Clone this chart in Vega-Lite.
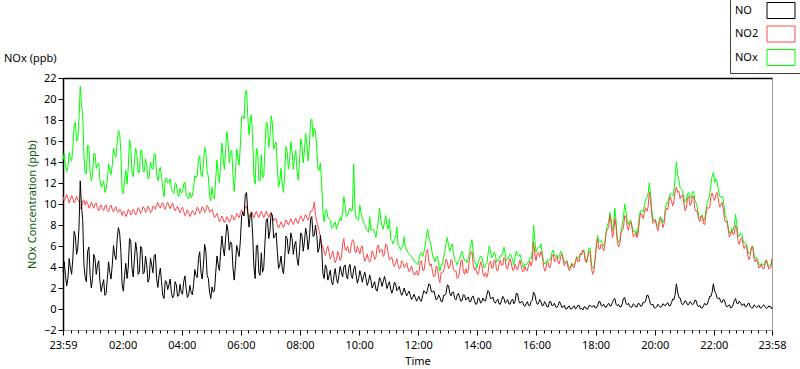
{
"$schema": "https://vega.github.io/schema/vega-lite/v6.json",
"width": 709,
"height": 252,
"autosize": "none",
"padding": {"left": 63, "top": 78, "right": 28, "bottom": 39},
"background": "white",
"config": {
  "font": "Noto Sans",
  "view": {"stroke": "#a0a0a0", "strokeWidth": 1},
  "axis": {"labelFont": "Noto Sans", "labelFontSize": 11, "labelColor": "#000", "titleFont": "Noto Sans", "titleFontSize": 11, "titleFontWeight": "normal", "titleColor": "#000", "tickColor": "#000", "grid": false}
},
"title": {"text": "NOx (ppb)", "anchor": "start", "frame": "group", "dx": -59, "dy": 68, "offset": 0, "fontSize": 11, "font": "Noto Sans", "fontWeight": "normal", "color": "#000"},
"data": {"values": [
{"m":0,"NO":3.5,"NO2":10.7,"NOx":14.2},{"m":5,"NO":3.2,"NO2":10.5,"NOx":13.7},{"m":10,"NO":2.9,"NO2":10.6,"NOx":13.5},{"m":15,"NO":3.9,"NO2":10.4,"NOx":14.3},{"m":20,"NO":4.8,"NO2":10.5,"NOx":15.3},{"m":25,"NO":7.0,"NO2":10.3,"NOx":17.8},{"m":30,"NO":5.8,"NO2":10.4,"NOx":16.2},{"m":35,"NO":12.2,"NO2":9.6,"NOx":21.2},{"m":40,"NO":8.5,"NO2":10.3,"NOx":18.5},{"m":45,"NO":3.0,"NO2":9.9,"NOx":12.9},{"m":50,"NO":5.5,"NO2":10.1,"NOx":15.6},{"m":55,"NO":3.2,"NO2":9.8,"NOx":13.0},
{"m":60,"NO":2.9,"NO2":9.9,"NOx":12.8},{"m":65,"NO":4.8,"NO2":10.0,"NOx":14.8},{"m":70,"NO":4.2,"NO2":9.6,"NOx":13.8},{"m":75,"NO":2.6,"NO2":9.7,"NOx":12.3},{"m":80,"NO":2.3,"NO2":9.5,"NOx":11.8},{"m":85,"NO":1.3,"NO2":9.8,"NOx":11.1},{"m":90,"NO":2.9,"NO2":9.4,"NOx":12.3},{"m":95,"NO":3.5,"NO2":9.7,"NOx":13.2},{"m":100,"NO":4.2,"NO2":9.5,"NOx":13.7},{"m":105,"NO":5.1,"NO2":9.6,"NOx":14.7},{"m":110,"NO":6.7,"NO2":9.3,"NOx":16.0},{"m":115,"NO":7.2,"NO2":9.5,"NOx":16.7},
{"m":120,"NO":2.3,"NO2":8.9,"NOx":11.2},{"m":125,"NO":3.2,"NO2":9.2,"NOx":12.4},{"m":130,"NO":2.9,"NO2":9.0,"NOx":11.9},{"m":135,"NO":6.7,"NO2":9.4,"NOx":16.1},{"m":140,"NO":3.9,"NO2":9.1,"NOx":13.0},{"m":145,"NO":4.8,"NO2":9.3,"NOx":14.1},{"m":150,"NO":5.5,"NO2":9.2,"NOx":14.7},{"m":155,"NO":3.5,"NO2":9.5,"NOx":13.0},{"m":160,"NO":5.8,"NO2":9.3,"NOx":15.1},{"m":165,"NO":3.5,"NO2":9.6,"NOx":13.1},{"m":170,"NO":4.2,"NO2":9.4,"NOx":13.6},{"m":175,"NO":2.9,"NO2":9.6,"NOx":12.5},
{"m":180,"NO":4.2,"NO2":9.3,"NOx":13.5},{"m":185,"NO":5.1,"NO2":9.7,"NOx":14.8},{"m":190,"NO":2.9,"NO2":9.9,"NOx":12.8},{"m":195,"NO":3.2,"NO2":9.8,"NOx":13.0},{"m":200,"NO":2.6,"NO2":10.0,"NOx":12.6},{"m":205,"NO":1.0,"NO2":9.7,"NOx":10.7},{"m":210,"NO":2.6,"NO2":9.9,"NOx":12.5},{"m":215,"NO":2.3,"NO2":9.8,"NOx":12.1},{"m":220,"NO":1.6,"NO2":9.9,"NOx":11.5},{"m":225,"NO":1.3,"NO2":9.7,"NOx":11.0},{"m":230,"NO":2.3,"NO2":9.6,"NOx":11.9},{"m":235,"NO":1.3,"NO2":9.4,"NOx":10.7},
{"m":240,"NO":1.6,"NO2":9.5,"NOx":11.1},{"m":245,"NO":2.6,"NO2":9.3,"NOx":11.9},{"m":250,"NO":1.9,"NO2":9.1,"NOx":11.0},{"m":255,"NO":1.3,"NO2":9.2,"NOx":10.5},{"m":260,"NO":1.6,"NO2":9.0,"NOx":10.6},{"m":265,"NO":2.3,"NO2":9.2,"NOx":11.5},{"m":270,"NO":3.2,"NO2":9.3,"NOx":12.5},{"m":275,"NO":4.8,"NO2":9.5,"NOx":14.3},{"m":280,"NO":3.5,"NO2":9.3,"NOx":12.8},{"m":285,"NO":4.2,"NO2":9.6,"NOx":13.8},{"m":290,"NO":5.5,"NO2":9.4,"NOx":14.9},{"m":295,"NO":2.9,"NO2":9.7,"NOx":12.6},
{"m":300,"NO":1.0,"NO2":9.3,"NOx":10.3},{"m":305,"NO":1.6,"NO2":9.1,"NOx":10.7},{"m":310,"NO":3.5,"NO2":8.9,"NOx":12.4},{"m":315,"NO":4.2,"NO2":8.7,"NOx":12.9},{"m":320,"NO":5.5,"NO2":8.5,"NOx":14.0},{"m":325,"NO":5.8,"NO2":8.6,"NOx":14.4},{"m":330,"NO":6.7,"NO2":8.4,"NOx":15.1},{"m":335,"NO":7.4,"NO2":8.6,"NOx":16.0},{"m":340,"NO":6.4,"NO2":8.5,"NOx":14.9},{"m":345,"NO":3.9,"NO2":8.8,"NOx":12.7},{"m":350,"NO":4.2,"NO2":8.7,"NOx":12.9},{"m":355,"NO":5.5,"NO2":8.9,"NOx":14.4},
{"m":360,"NO":6.5,"NO2":9.1,"NOx":15.6},{"m":365,"NO":9.2,"NO2":9.2,"NOx":18.4},{"m":370,"NO":10.9,"NO2":9.8,"NOx":20.7},{"m":375,"NO":9.3,"NO2":9.1,"NOx":18.4},{"m":380,"NO":8.9,"NO2":9.0,"NOx":17.9},{"m":385,"NO":7.0,"NO2":9.0,"NOx":16.0},{"m":390,"NO":2.9,"NO2":9.0,"NOx":11.9},{"m":395,"NO":6.1,"NO2":9.0,"NOx":15.1},{"m":400,"NO":3.2,"NO2":9.0,"NOx":12.2},{"m":405,"NO":3.5,"NO2":9.0,"NOx":12.5},{"m":410,"NO":6.4,"NO2":9.0,"NOx":15.4},{"m":415,"NO":8.6,"NO2":9.0,"NOx":17.6},
{"m":420,"NO":7.4,"NO2":9.0,"NOx":16.4},{"m":425,"NO":8.9,"NO2":8.8,"NOx":17.7},{"m":430,"NO":7.0,"NO2":8.6,"NOx":15.6},{"m":435,"NO":5.5,"NO2":8.0,"NOx":13.5},{"m":440,"NO":4.2,"NO2":8.0,"NOx":12.2},{"m":445,"NO":3.9,"NO2":8.0,"NOx":11.9},{"m":450,"NO":4.8,"NO2":8.1,"NOx":12.9},{"m":455,"NO":6.7,"NO2":8.3,"NOx":15.0},{"m":460,"NO":5.8,"NO2":8.3,"NOx":14.1},{"m":465,"NO":6.7,"NO2":8.3,"NOx":15.0},{"m":470,"NO":6.1,"NO2":8.4,"NOx":14.5},{"m":475,"NO":4.8,"NO2":8.3,"NOx":13.1},
{"m":480,"NO":5.5,"NO2":8.6,"NOx":14.1},{"m":485,"NO":7.0,"NO2":8.6,"NOx":15.6},{"m":490,"NO":6.4,"NO2":8.7,"NOx":15.1},{"m":495,"NO":7.0,"NO2":8.7,"NOx":15.7},{"m":500,"NO":6.7,"NO2":8.8,"NOx":15.5},{"m":505,"NO":8.8,"NO2":9.3,"NOx":18.1},{"m":510,"NO":7.0,"NO2":10.2,"NOx":17.2},{"m":515,"NO":7.0,"NO2":8.3,"NOx":15.3},{"m":520,"NO":5.8,"NO2":7.4,"NOx":13.2},{"m":525,"NO":5.8,"NO2":6.1,"NOx":11.9},{"m":530,"NO":2.9,"NO2":5.4,"NOx":8.3},{"m":535,"NO":3.9,"NO2":5.6,"NOx":9.5},
{"m":540,"NO":3.2,"NO2":5.4,"NOx":8.6},{"m":545,"NO":2.6,"NO2":5.1,"NOx":7.7},{"m":550,"NO":3.2,"NO2":4.9,"NOx":8.1},{"m":555,"NO":2.9,"NO2":4.7,"NOx":7.6},{"m":560,"NO":3.2,"NO2":5.1,"NOx":8.3},{"m":565,"NO":3.5,"NO2":4.9,"NOx":8.4},{"m":570,"NO":4.0,"NO2":6.7,"NOx":10.7},{"m":575,"NO":3.2,"NO2":5.6,"NOx":8.8},{"m":580,"NO":3.9,"NO2":5.4,"NOx":9.3},{"m":585,"NO":3.2,"NO2":6.1,"NOx":9.3},{"m":590,"NO":3.8,"NO2":6.5,"NOx":13.8},{"m":595,"NO":3.2,"NO2":5.4,"NOx":8.6},
{"m":600,"NO":2.9,"NO2":5.6,"NOx":8.5},{"m":605,"NO":3.2,"NO2":5.9,"NOx":9.1},{"m":610,"NO":3.1,"NO2":5.1,"NOx":8.2},{"m":615,"NO":2.9,"NO2":4.8,"NOx":7.7},{"m":620,"NO":2.6,"NO2":4.7,"NOx":7.3},{"m":625,"NO":2.7,"NO2":4.8,"NOx":7.5},{"m":630,"NO":2.3,"NO2":5.3,"NOx":7.6},{"m":635,"NO":1.9,"NO2":4.9,"NOx":6.8},{"m":640,"NO":2.3,"NO2":6.1,"NOx":8.4},{"m":645,"NO":2.7,"NO2":5.6,"NOx":8.5},{"m":650,"NO":2.6,"NO2":5.0,"NOx":7.6},{"m":655,"NO":2.6,"NO2":6.2,"NOx":8.9},
{"m":660,"NO":2.3,"NO2":5.3,"NOx":7.6},{"m":665,"NO":1.9,"NO2":4.8,"NOx":6.7},{"m":670,"NO":1.9,"NO2":4.3,"NOx":6.2},{"m":675,"NO":2.4,"NO2":4.4,"NOx":6.8},{"m":680,"NO":1.9,"NO2":4.2,"NOx":6.1},{"m":685,"NO":1.6,"NO2":4.0,"NOx":5.6},{"m":690,"NO":1.6,"NO2":4.4,"NOx":6.0},{"m":695,"NO":1.6,"NO2":4.1,"NOx":5.7},{"m":700,"NO":1.5,"NO2":3.9,"NOx":5.4},{"m":705,"NO":1.3,"NO2":3.8,"NOx":5.1},{"m":710,"NO":1.1,"NO2":3.6,"NOx":4.7},{"m":715,"NO":1.1,"NO2":3.3,"NOx":4.4},
{"m":720,"NO":1.0,"NO2":3.2,"NOx":4.2},{"m":725,"NO":0.8,"NO2":4.5,"NOx":5.3},{"m":730,"NO":1.3,"NO2":3.7,"NOx":5.0},{"m":735,"NO":1.6,"NO2":4.4,"NOx":6.0},{"m":740,"NO":1.9,"NO2":5.7,"NOx":7.6},{"m":745,"NO":2.3,"NO2":4.1,"NOx":6.4},{"m":750,"NO":1.6,"NO2":3.5,"NOx":5.1},{"m":755,"NO":1.3,"NO2":3.2,"NOx":4.5},{"m":760,"NO":1.0,"NO2":4.0,"NOx":5.0},{"m":765,"NO":1.1,"NO2":2.5,"NOx":3.6},{"m":770,"NO":0.7,"NO2":3.5,"NOx":4.2},{"m":775,"NO":1.3,"NO2":4.2,"NOx":5.5},
{"m":780,"NO":2.3,"NO2":4.5,"NOx":6.8},{"m":785,"NO":1.5,"NO2":4.0,"NOx":5.5},{"m":790,"NO":1.6,"NO2":4.6,"NOx":6.2},{"m":795,"NO":1.0,"NO2":3.6,"NOx":4.6},{"m":800,"NO":1.3,"NO2":2.9,"NOx":4.2},{"m":805,"NO":1.1,"NO2":3.6,"NOx":4.7},{"m":810,"NO":0.8,"NO2":4.7,"NOx":5.5},{"m":815,"NO":1.3,"NO2":3.3,"NOx":4.6},{"m":820,"NO":1.0,"NO2":3.4,"NOx":4.4},{"m":825,"NO":0.7,"NO2":4.7,"NOx":5.4},{"m":830,"NO":1.1,"NO2":5.5,"NOx":6.6},{"m":835,"NO":0.8,"NO2":3.7,"NOx":4.5},
{"m":840,"NO":0.5,"NO2":3.4,"NOx":3.9},{"m":845,"NO":1.0,"NO2":3.8,"NOx":4.8},{"m":850,"NO":0.7,"NO2":4.2,"NOx":4.9},{"m":855,"NO":0.8,"NO2":3.1,"NOx":3.9},{"m":860,"NO":1.3,"NO2":3.0,"NOx":4.3},{"m":865,"NO":1.6,"NO2":4.4,"NOx":6.0},{"m":870,"NO":1.0,"NO2":3.9,"NOx":4.9},{"m":875,"NO":0.7,"NO2":4.7,"NOx":5.4},{"m":880,"NO":0.8,"NO2":3.7,"NOx":4.5},{"m":885,"NO":0.5,"NO2":4.3,"NOx":4.8},{"m":890,"NO":0.8,"NO2":4.2,"NOx":5.0},{"m":895,"NO":1.0,"NO2":4.9,"NOx":5.9},
{"m":900,"NO":0.7,"NO2":3.9,"NOx":4.6},{"m":905,"NO":0.5,"NO2":4.5,"NOx":5.0},{"m":910,"NO":0.8,"NO2":4.3,"NOx":5.1},{"m":915,"NO":0.5,"NO2":3.7,"NOx":4.2},{"m":920,"NO":1.5,"NO2":4.0,"NOx":5.5},{"m":925,"NO":0.8,"NO2":4.2,"NOx":5.0},{"m":930,"NO":0.7,"NO2":4.1,"NOx":4.8},{"m":935,"NO":0.35,"NO2":3.6,"NOx":3.9},{"m":940,"NO":0.5,"NO2":3.7,"NOx":4.2},{"m":945,"NO":0.35,"NO2":4.2,"NOx":4.6},{"m":950,"NO":0.7,"NO2":4.1,"NOx":4.8},{"m":955,"NO":1.6,"NO2":6.4,"NOx":8.0},
{"m":960,"NO":0.8,"NO2":4.6,"NOx":5.4},{"m":965,"NO":0.5,"NO2":5.4,"NOx":5.9},{"m":970,"NO":0.7,"NO2":5.5,"NOx":6.2},{"m":975,"NO":0.35,"NO2":4.2,"NOx":4.6},{"m":980,"NO":0.5,"NO2":3.8,"NOx":4.3},{"m":985,"NO":0.2,"NO2":4.4,"NOx":4.6},{"m":990,"NO":0.7,"NO2":4.2,"NOx":4.9},{"m":995,"NO":0.35,"NO2":5.2,"NOx":5.6},{"m":1000,"NO":0.2,"NO2":4.8,"NOx":5.0},{"m":1005,"NO":0.35,"NO2":4.4,"NOx":4.8},{"m":1010,"NO":0.5,"NO2":5.0,"NOx":5.5},{"m":1015,"NO":0.2,"NO2":4.7,"NOx":4.9},
{"m":1020,"NO":0.0,"NO2":4.4,"NOx":4.4},{"m":1025,"NO":0.2,"NO2":4.0,"NOx":4.2},{"m":1030,"NO":0.0,"NO2":3.9,"NOx":3.9},{"m":1035,"NO":0.2,"NO2":4.0,"NOx":4.2},{"m":1040,"NO":0.0,"NO2":4.5,"NOx":4.5},{"m":1045,"NO":0.35,"NO2":4.5,"NOx":4.9},{"m":1050,"NO":0.0,"NO2":5.3,"NOx":5.3},{"m":1055,"NO":-0.1,"NO2":5.6,"NOx":5.6},{"m":1060,"NO":0.2,"NO2":4.6,"NOx":4.8},{"m":1065,"NO":0.0,"NO2":5.0,"NOx":5.0},{"m":1070,"NO":0.35,"NO2":5.4,"NOx":5.8},{"m":1075,"NO":0.2,"NO2":3.3,"NOx":3.9},
{"m":1080,"NO":0.1,"NO2":4.7,"NOx":4.8},{"m":1085,"NO":0.3,"NO2":6.7,"NOx":7.0},{"m":1090,"NO":0.7,"NO2":5.7,"NOx":6.4},{"m":1095,"NO":0.3,"NO2":5.9,"NOx":6.2},{"m":1100,"NO":0.2,"NO2":6.2,"NOx":6.4},{"m":1105,"NO":0.4,"NO2":7.6,"NOx":8.0},{"m":1110,"NO":0.3,"NO2":8.9,"NOx":9.2},{"m":1115,"NO":0.6,"NO2":6.8,"NOx":7.4},{"m":1120,"NO":1.0,"NO2":8.6,"NOx":9.6},{"m":1125,"NO":0.3,"NO2":6.4,"NOx":6.7},{"m":1130,"NO":0.2,"NO2":6.2,"NOx":6.4},{"m":1135,"NO":0.5,"NO2":7.5,"NOx":8.0},
{"m":1140,"NO":1.1,"NO2":8.9,"NOx":10.0},{"m":1145,"NO":0.4,"NO2":7.9,"NOx":8.3},{"m":1150,"NO":0.3,"NO2":8.1,"NOx":8.4},{"m":1155,"NO":0.2,"NO2":7.7,"NOx":7.9},{"m":1160,"NO":0.4,"NO2":7.0,"NOx":7.4},{"m":1165,"NO":0.2,"NO2":6.8,"NOx":7.0},{"m":1170,"NO":0.5,"NO2":8.5,"NOx":9.0},{"m":1175,"NO":0.3,"NO2":9.0,"NOx":9.3},{"m":1180,"NO":0.6,"NO2":9.2,"NOx":9.8},{"m":1185,"NO":1.3,"NO2":9.3,"NOx":10.6},{"m":1190,"NO":0.9,"NO2":11.1,"NOx":12.0},{"m":1195,"NO":0.4,"NO2":9.0,"NOx":9.4},
{"m":1200,"NO":0.1,"NO2":8.3,"NOx":8.4},{"m":1205,"NO":0.2,"NO2":7.8,"NOx":8.0},{"m":1210,"NO":0.3,"NO2":8.1,"NOx":8.4},{"m":1215,"NO":0.2,"NO2":8.4,"NOx":8.6},{"m":1220,"NO":0.4,"NO2":8.1,"NOx":8.5},{"m":1225,"NO":0.5,"NO2":9.6,"NOx":10.1},{"m":1230,"NO":0.3,"NO2":10.3,"NOx":10.6},{"m":1235,"NO":0.6,"NO2":10.3,"NOx":10.9},{"m":1240,"NO":0.9,"NO2":10.3,"NOx":11.2},{"m":1245,"NO":2.4,"NO2":11.6,"NOx":14.0},{"m":1250,"NO":1.1,"NO2":11.2,"NOx":12.3},{"m":1255,"NO":0.6,"NO2":10.8,"NOx":11.4},
{"m":1260,"NO":0.5,"NO2":10.1,"NOx":10.6},{"m":1265,"NO":0.7,"NO2":9.6,"NOx":10.3},{"m":1270,"NO":0.4,"NO2":10.7,"NOx":11.1},{"m":1275,"NO":0.6,"NO2":10.0,"NOx":10.6},{"m":1280,"NO":0.5,"NO2":10.7,"NOx":11.2},{"m":1285,"NO":0.8,"NO2":9.3,"NOx":10.1},{"m":1290,"NO":0.2,"NO2":8.6,"NOx":8.8},{"m":1295,"NO":0.1,"NO2":8.8,"NOx":8.9},{"m":1300,"NO":0.3,"NO2":8.1,"NOx":8.4},{"m":1305,"NO":0.4,"NO2":9.0,"NOx":9.4},{"m":1310,"NO":0.8,"NO2":9.6,"NOx":10.4},{"m":1315,"NO":1.2,"NO2":10.7,"NOx":11.9},
{"m":1320,"NO":2.4,"NO2":10.6,"NOx":13.0},{"m":1325,"NO":1.5,"NO2":10.9,"NOx":12.4},{"m":1330,"NO":1.0,"NO2":10.5,"NOx":11.5},{"m":1335,"NO":0.7,"NO2":9.9,"NOx":10.6},{"m":1340,"NO":0.9,"NO2":9.6,"NOx":10.5},{"m":1345,"NO":0.4,"NO2":8.3,"NOx":8.7},{"m":1350,"NO":0.3,"NO2":7.6,"NOx":7.9},{"m":1355,"NO":0.1,"NO2":7.1,"NOx":7.2},{"m":1360,"NO":0.4,"NO2":7.1,"NOx":7.5},{"m":1365,"NO":1.0,"NO2":8.0,"NOx":9.0},{"m":1370,"NO":0.5,"NO2":6.5,"NOx":7.0},{"m":1375,"NO":0.6,"NO2":6.6,"NOx":7.2},
{"m":1380,"NO":0.4,"NO2":6.2,"NOx":6.6},{"m":1385,"NO":0.2,"NO2":6.1,"NOx":6.3},{"m":1390,"NO":0.5,"NO2":5.0,"NOx":5.5},{"m":1395,"NO":0.2,"NO2":5.2,"NOx":5.4},{"m":1400,"NO":0.1,"NO2":5.9,"NOx":6.0},{"m":1405,"NO":0.3,"NO2":4.5,"NOx":4.8},{"m":1410,"NO":0.2,"NO2":4.4,"NOx":4.6},{"m":1415,"NO":0.1,"NO2":4.0,"NOx":4.1},{"m":1420,"NO":0.3,"NO2":3.9,"NOx":4.2},{"m":1425,"NO":0.2,"NO2":4.3,"NOx":4.5},{"m":1430,"NO":0.1,"NO2":4.2,"NOx":4.3},{"m":1435,"NO":0.2,"NO2":4.0,"NOx":4.2},
{"m":1439,"NO":0.0,"NO2":4.8,"NOx":4.8},
{"m":2.5,"NO":4.5,"NO2":10.3,"NOx":14.8},{"m":7.5,"NO":2.2,"NO2":10.9,"NOx":13.1},{"m":12.5,"NO":4.8,"NO2":10.1,"NOx":14.9},{"m":17.5,"NO":3.3,"NO2":10.8,"NOx":14.1},{"m":22.5,"NO":7.4,"NO2":10.1,"NOx":17.5},{"m":27.5,"NO":5.2,"NO2":10.75,"NOx":16.0},{"m":32.5,"NO":7.8,"NO2":10.3,"NOx":18.1},{"m":37.5,"NO":9.8,"NO2":9.5,"NOx":19.4},{"m":42.5,"NO":4.2,"NO2":10.4,"NOx":14.6},{"m":47.5,"NO":2.6,"NO2":10.3,"NOx":12.9},{"m":52.5,"NO":5.9,"NO2":9.6,"NOx":15.5},{"m":57.5,"NO":2.0,"NO2":10.2,"NOx":12.2},
{"m":62.5,"NO":5.2,"NO2":9.6,"NOx":14.8},{"m":67.5,"NO":3.3,"NO2":10.1,"NOx":13.4},{"m":72.5,"NO":4.6,"NO2":9.35,"NOx":13.9},{"m":77.5,"NO":1.65,"NO2":9.9,"NOx":11.6},{"m":82.5,"NO":2.8,"NO2":9.35,"NOx":12.2},{"m":87.5,"NO":1.5,"NO2":9.9,"NOx":11.4},{"m":92.5,"NO":4.5,"NO2":9.25,"NOx":13.8},{"m":97.5,"NO":2.85,"NO2":9.9,"NOx":12.8},{"m":102.5,"NO":6.05,"NO2":9.25,"NOx":15.3},{"m":107.5,"NO":4.7,"NO2":9.75,"NOx":14.5},{"m":112.5,"NO":7.75,"NO2":9.2,"NOx":17.0},{"m":117.5,"NO":5.5,"NO2":9.4,"NOx":14.9},
{"m":122.5,"NO":1.7,"NO2":9.3,"NOx":11.0},{"m":127.5,"NO":4.35,"NO2":8.8,"NOx":13.2},{"m":132.5,"NO":4.0,"NO2":9.5,"NOx":13.5},{"m":137.5,"NO":6.5,"NO2":8.95,"NOx":15.5},{"m":142.5,"NO":3.05,"NO2":9.5,"NOx":12.6},{"m":147.5,"NO":6.35,"NO2":8.95,"NOx":15.3},{"m":152.5,"NO":3.3,"NO2":9.65,"NOx":13.0},{"m":157.5,"NO":5.95,"NO2":9.1,"NOx":15.1},{"m":162.5,"NO":3.35,"NO2":9.75,"NOx":13.1},{"m":167.5,"NO":5.05,"NO2":9.2,"NOx":14.3},{"m":172.5,"NO":2.55,"NO2":9.8,"NOx":12.4},{"m":177.5,"NO":4.85,"NO2":9.15,"NOx":14.0},
{"m":182.5,"NO":3.45,"NO2":9.8,"NOx":13.3},{"m":187.5,"NO":5.2,"NO2":9.5,"NOx":14.7},{"m":192.5,"NO":2.05,"NO2":10.15,"NOx":12.2},{"m":197.5,"NO":3.9,"NO2":9.6,"NOx":13.5},{"m":202.5,"NO":1.3,"NO2":10.15,"NOx":11.5},{"m":207.5,"NO":2.7,"NO2":9.5,"NOx":12.2},{"m":212.5,"NO":1.85,"NO2":10.15,"NOx":12.0},{"m":217.5,"NO":2.85,"NO2":9.55,"NOx":12.4},{"m":222.5,"NO":1.05,"NO2":10.1,"NOx":11.2},{"m":227.5,"NO":2.6,"NO2":9.35,"NOx":12.0},{"m":232.5,"NO":1.2,"NO2":9.8,"NOx":11.0},{"m":237.5,"NO":2.35,"NO2":9.15,"NOx":11.5},
{"m":242.5,"NO":1.4,"NO2":9.7,"NOx":11.1},{"m":247.5,"NO":3.15,"NO2":8.9,"NOx":12.1},{"m":252.5,"NO":1.1,"NO2":9.45,"NOx":10.6},{"m":257.5,"NO":2.25,"NO2":8.8,"NOx":11.1},{"m":262.5,"NO":1.35,"NO2":9.4,"NOx":10.8},{"m":267.5,"NO":3.75,"NO2":8.95,"NOx":12.7},{"m":272.5,"NO":3.0,"NO2":9.7,"NOx":12.7},{"m":277.5,"NO":5.45,"NO2":9.1,"NOx":14.6},{"m":282.5,"NO":2.85,"NO2":9.75,"NOx":12.6},{"m":287.5,"NO":6.15,"NO2":9.2,"NOx":15.4},{"m":292.5,"NO":3.2,"NO2":9.85,"NOx":13.1},{"m":297.5,"NO":1.6,"NO2":9.2,"NOx":10.8},
{"m":302.5,"NO":2.1,"NO2":9.5,"NOx":11.6},{"m":307.5,"NO":1.75,"NO2":8.7,"NOx":10.5},{"m":312.5,"NO":5.05,"NO2":9.1,"NOx":14.2},{"m":317.5,"NO":3.65,"NO2":8.3,"NOx":12.0},{"m":322.5,"NO":6.95,"NO2":8.85,"NOx":15.8},{"m":327.5,"NO":5.05,"NO2":8.2,"NOx":13.3},{"m":332.5,"NO":8.05,"NO2":8.8,"NOx":16.9},{"m":337.5,"NO":5.6,"NO2":8.25,"NOx":13.9},{"m":342.5,"NO":6.15,"NO2":8.95,"NOx":15.1},{"m":347.5,"NO":2.75,"NO2":8.45,"NOx":11.2},{"m":352.5,"NO":6.05,"NO2":9.1,"NOx":15.2},{"m":357.5,"NO":5.0,"NO2":8.7,"NOx":13.7},
{"m":362.5,"NO":8.85,"NO2":9.45,"NOx":18.3},{"m":367.5,"NO":8.85,"NO2":9.2,"NOx":18.1},{"m":372.5,"NO":11.1,"NO2":9.75,"NOx":20.8},{"m":377.5,"NO":7.8,"NO2":8.75,"NOx":16.6},{"m":382.5,"NO":9.15,"NO2":9.3,"NOx":18.5},{"m":387.5,"NO":4.0,"NO2":8.7,"NOx":12.7},{"m":392.5,"NO":6.0,"NO2":9.3,"NOx":15.3},{"m":397.5,"NO":3.45,"NO2":8.7,"NOx":12.2},{"m":402.5,"NO":5.35,"NO2":9.3,"NOx":14.7},{"m":407.5,"NO":3.95,"NO2":8.7,"NOx":12.7},{"m":412.5,"NO":8.5,"NO2":9.3,"NOx":17.8},{"m":417.5,"NO":6.7,"NO2":8.7,"NOx":15.4},
{"m":422.5,"NO":9.15,"NO2":9.2,"NOx":18.4},{"m":427.5,"NO":6.75,"NO2":8.4,"NOx":15.2},{"m":432.5,"NO":7.25,"NO2":8.6,"NOx":15.9},{"m":437.5,"NO":3.85,"NO2":7.7,"NOx":11.6},{"m":442.5,"NO":5.05,"NO2":8.3,"NOx":13.4},{"m":447.5,"NO":3.35,"NO2":7.75,"NOx":11.1},{"m":452.5,"NO":6.95,"NO2":8.5,"NOx":15.5},{"m":457.5,"NO":5.25,"NO2":8.0,"NOx":13.3},{"m":462.5,"NO":7.25,"NO2":8.6,"NOx":15.9},{"m":467.5,"NO":5.2,"NO2":8.05,"NOx":13.3},{"m":472.5,"NO":6.45,"NO2":8.65,"NOx":15.1},{"m":477.5,"NO":4.15,"NO2":8.15,"NOx":12.3},
{"m":482.5,"NO":7.25,"NO2":8.9,"NOx":16.2},{"m":487.5,"NO":5.5,"NO2":8.35,"NOx":13.9},{"m":492.5,"NO":7.7,"NO2":9.0,"NOx":16.7},{"m":497.5,"NO":5.65,"NO2":8.45,"NOx":14.1},{"m":502.5,"NO":8.55,"NO2":9.35,"NOx":17.9},{"m":507.5,"NO":6.9,"NO2":9.5,"NOx":16.4},{"m":512.5,"NO":8.0,"NO2":9.0,"NOx":17.0},{"m":517.5,"NO":5.4,"NO2":7.9,"NOx":13.3},{"m":522.5,"NO":7.0,"NO2":6.9,"NOx":13.9},{"m":527.5,"NO":3.4,"NO2":5.9,"NOx":9.3},{"m":532.5,"NO":4.2,"NO2":5.1,"NOx":9.3},{"m":537.5,"NO":2.75,"NO2":6.0,"NOx":8.75},
{"m":542.5,"NO":3.7,"NO2":4.75,"NOx":8.45},{"m":547.5,"NO":2.3,"NO2":5.5,"NOx":7.8},{"m":552.5,"NO":3.85,"NO2":4.4,"NOx":8.3},{"m":557.5,"NO":2.45,"NO2":5.5,"NOx":8.0},{"m":562.5,"NO":4.05,"NO2":4.6,"NOx":8.7},{"m":567.5,"NO":3.05,"NO2":6.2,"NOx":9.3},{"m":572.5,"NO":4.2,"NO2":5.65,"NOx":9.9},{"m":577.5,"NO":2.85,"NO2":6.0,"NOx":8.9},{"m":582.5,"NO":4.25,"NO2":5.35,"NOx":9.6},{"m":587.5,"NO":2.9,"NO2":6.6,"NOx":9.5},{"m":592.5,"NO":4.1,"NO2":5.45,"NOx":9.6},{"m":597.5,"NO":2.45,"NO2":6.0,"NOx":8.5},
{"m":602.5,"NO":3.65,"NO2":5.25,"NOx":9.9},{"m":607.5,"NO":2.55,"NO2":6.0,"NOx":8.6},{"m":612.5,"NO":3.5,"NO2":4.55,"NOx":8.05},{"m":617.5,"NO":2.25,"NO2":5.25,"NOx":7.5},{"m":622.5,"NO":3.25,"NO2":4.45,"NOx":8.8},{"m":627.5,"NO":2.0,"NO2":5.55,"NOx":7.6},{"m":632.5,"NO":2.6,"NO2":4.7,"NOx":7.3},{"m":637.5,"NO":1.7,"NO2":5.9,"NOx":7.6},{"m":642.5,"NO":3.0,"NO2":5.35,"NOx":9.6},{"m":647.5,"NO":2.15,"NO2":5.7,"NOx":7.9},{"m":652.5,"NO":3.1,"NO2":5.2,"NOx":8.3},{"m":657.5,"NO":1.95,"NO2":6.05,"NOx":8.0},
{"m":662.5,"NO":2.6,"NO2":4.65,"NOx":8.6},{"m":667.5,"NO":1.5,"NO2":4.95,"NOx":6.5},{"m":672.5,"NO":2.55,"NO2":4.05,"NOx":6.6},{"m":677.5,"NO":1.75,"NO2":4.8,"NOx":7.8},{"m":682.5,"NO":2.15,"NO2":3.8,"NOx":5.95},{"m":687.5,"NO":1.3,"NO2":4.6,"NOx":5.9},{"m":692.5,"NO":2.0,"NO2":3.95,"NOx":6.9},{"m":697.5,"NO":1.25,"NO2":4.4,"NOx":5.65},{"m":702.5,"NO":1.7,"NO2":3.55,"NOx":5.25},{"m":707.5,"NO":0.9,"NO2":4.1,"NOx":5.0},{"m":712.5,"NO":1.4,"NO2":3.25,"NOx":4.65},{"m":717.5,"NO":0.75,"NO2":3.65,"NOx":4.4},
{"m":722.5,"NO":1.2,"NO2":3.45,"NOx":4.65},{"m":727.5,"NO":0.75,"NO2":4.6,"NOx":5.35},{"m":732.5,"NO":1.75,"NO2":3.65,"NOx":5.4},{"m":737.5,"NO":1.45,"NO2":5.45,"NOx":6.9},{"m":742.5,"NO":2.4,"NO2":4.5,"NOx":6.9},{"m":747.5,"NO":1.65,"NO2":4.3,"NOx":5.95},{"m":752.5,"NO":1.75,"NO2":3.05,"NOx":4.8},{"m":757.5,"NO":0.85,"NO2":4.1,"NOx":4.95},{"m":762.5,"NO":1.35,"NO2":2.95,"NOx":4.3},{"m":767.5,"NO":0.7,"NO2":3.5,"NOx":4.2},{"m":772.5,"NO":1.3,"NO2":3.55,"NOx":4.85},{"m":777.5,"NO":1.5,"NO2":4.75,"NOx":6.25},
{"m":782.5,"NO":2.2,"NO2":3.85,"NOx":6.05},{"m":787.5,"NO":1.25,"NO2":4.7,"NOx":5.95},{"m":792.5,"NO":1.6,"NO2":3.7,"NOx":5.3},{"m":797.5,"NO":0.85,"NO2":3.65,"NOx":4.5},{"m":802.5,"NO":1.5,"NO2":3.05,"NOx":4.55},{"m":807.5,"NO":0.75,"NO2":4.55,"NOx":5.3},{"m":812.5,"NO":1.35,"NO2":3.6,"NOx":4.95},{"m":817.5,"NO":0.85,"NO2":3.85,"NOx":4.7},{"m":822.5,"NO":1.15,"NO2":3.65,"NOx":4.8},{"m":827.5,"NO":0.7,"NO2":5.4,"NOx":6.1},{"m":832.5,"NO":1.25,"NO2":4.2,"NOx":5.45},{"m":837.5,"NO":0.45,"NO2":3.95,"NOx":4.4},
{"m":842.5,"NO":1.05,"NO2":3.3,"NOx":4.35},{"m":847.5,"NO":0.55,"NO2":4.5,"NOx":5.05},{"m":852.5,"NO":1.05,"NO2":3.35,"NOx":4.4},{"m":857.5,"NO":0.75,"NO2":3.45,"NOx":4.2},{"m":862.5,"NO":1.75,"NO2":3.4,"NOx":5.15},{"m":867.5,"NO":1.0,"NO2":4.55,"NOx":5.55},{"m":872.5,"NO":1.15,"NO2":3.9,"NOx":5.05},{"m":877.5,"NO":0.55,"NO2":4.6,"NOx":5.15},{"m":882.5,"NO":0.95,"NO2":3.6,"NOx":4.55},{"m":887.5,"NO":0.45,"NO2":4.65,"NOx":5.1},{"m":892.5,"NO":1.2,"NO2":4.15,"NOx":5.35},{"m":897.5,"NO":0.55,"NO2":4.7,"NOx":5.25},
{"m":902.5,"NO":0.9,"NO2":3.8,"NOx":4.7},{"m":907.5,"NO":0.45,"NO2":4.8,"NOx":5.25},{"m":912.5,"NO":0.95,"NO2":3.7,"NOx":4.65},{"m":917.5,"NO":0.7,"NO2":4.25,"NOx":4.95},{"m":922.5,"NO":1.45,"NO2":3.7,"NOx":5.15},{"m":927.5,"NO":0.55,"NO2":4.65,"NOx":5.2},{"m":932.5,"NO":0.7,"NO2":3.55,"NOx":4.25},{"m":937.5,"NO":0.25,"NO2":4.05,"NOx":4.3},{"m":942.5,"NO":0.7,"NO2":3.65,"NOx":4.35},{"m":947.5,"NO":0.3,"NO2":4.55,"NOx":4.85},{"m":952.5,"NO":0.85,"NO2":4.6,"NOx":5.45},{"m":957.5,"NO":1.4,"NO2":5.2,"NOx":6.6},
{"m":962.5,"NO":0.45,"NO2":5.3,"NOx":5.75},{"m":967.5,"NO":0.9,"NO2":4.95,"NOx":5.85},{"m":972.5,"NO":0.3,"NO2":5.15,"NOx":5.45},{"m":977.5,"NO":0.7,"NO2":3.6,"NOx":4.3},{"m":982.5,"NO":0.2,"NO2":4.5,"NOx":4.7},{"m":987.5,"NO":0.7,"NO2":3.9,"NOx":4.6},{"m":992.5,"NO":0.3,"NO2":5.1,"NOx":5.4},{"m":997.5,"NO":0.55,"NO2":4.5,"NOx":5.05},{"m":1002.5,"NO":0.15,"NO2":5.0,"NOx":5.15},{"m":1007.5,"NO":0.7,"NO2":4.3,"NOx":5.0},{"m":1012.5,"NO":0.15,"NO2":5.25,"NOx":5.4},{"m":1017.5,"NO":0.35,"NO2":4.15,"NOx":4.5},
{"m":1022.5,"NO":0.0,"NO2":4.6,"NOx":4.6},{"m":1027.5,"NO":0.3,"NO2":3.65,"NOx":3.95},{"m":1032.5,"NO":0.0,"NO2":4.35,"NOx":4.35},{"m":1037.5,"NO":0.3,"NO2":3.95,"NOx":4.25},{"m":1042.5,"NO":0.1,"NO2":4.9,"NOx":5.0},{"m":1047.5,"NO":0.35,"NO2":4.5,"NOx":4.85},{"m":1052.5,"NO":0.05,"NO2":5.15,"NOx":5.2},{"m":1057.5,"NO":0.2,"NO2":5.4,"NOx":5.6},{"m":1062.5,"NO":0.0,"NO2":4.4,"NOx":4.4},{"m":1067.5,"NO":0.3,"NO2":5.5,"NOx":5.8},{"m":1072.5,"NO":0.2,"NO2":3.95,"NOx":4.15},{"m":1077.5,"NO":0.35,"NO2":3.6,"NOx":3.95},
{"m":1082.5,"NO":0.1,"NO2":6.0,"NOx":6.1},{"m":1087.5,"NO":0.7,"NO2":5.7,"NOx":6.4},{"m":1092.5,"NO":0.3,"NO2":6.2,"NOx":6.5},{"m":1097.5,"NO":0.45,"NO2":5.55,"NOx":6.0},{"m":1102.5,"NO":0.15,"NO2":7.3,"NOx":7.45},{"m":1107.5,"NO":0.55,"NO2":7.75,"NOx":8.3},{"m":1112.5,"NO":0.3,"NO2":8.25,"NOx":8.55},{"m":1117.5,"NO":0.9,"NO2":7.2,"NOx":8.1},{"m":1122.5,"NO":0.45,"NO2":7.9,"NOx":8.35},{"m":1127.5,"NO":0.45,"NO2":5.9,"NOx":6.35},{"m":1132.5,"NO":0.2,"NO2":7.25,"NOx":7.45},{"m":1137.5,"NO":1.0,"NO2":7.7,"NOx":8.7},
{"m":1142.5,"NO":0.55,"NO2":8.8,"NOx":9.35},{"m":1147.5,"NO":0.55,"NO2":7.5,"NOx":8.05},{"m":1152.5,"NO":0.15,"NO2":8.3,"NOx":8.45},{"m":1157.5,"NO":0.5,"NO2":6.85,"NOx":7.35},{"m":1162.5,"NO":0.2,"NO2":7.3,"NOx":7.5},{"m":1167.5,"NO":0.55,"NO2":7.25,"NOx":7.8},{"m":1172.5,"NO":0.25,"NO2":9.15,"NOx":9.4},{"m":1177.5,"NO":0.65,"NO2":8.6,"NOx":9.25},{"m":1182.5,"NO":0.75,"NO2":9.65,"NOx":10.4},{"m":1187.5,"NO":1.3,"NO2":9.7,"NOx":11.0},{"m":1192.5,"NO":0.45,"NO2":10.45,"NOx":10.9},{"m":1197.5,"NO":0.45,"NO2":8.15,"NOx":8.6},
{"m":1202.5,"NO":0.1,"NO2":8.45,"NOx":8.55},{"m":1207.5,"NO":0.45,"NO2":7.45,"NOx":7.9},{"m":1212.5,"NO":0.15,"NO2":8.65,"NOx":8.8},{"m":1217.5,"NO":0.5,"NO2":7.75,"NOx":8.25},{"m":1222.5,"NO":0.3,"NO2":9.25,"NOx":9.55},{"m":1227.5,"NO":0.6,"NO2":9.45,"NOx":10.05},{"m":1232.5,"NO":0.3,"NO2":10.7,"NOx":11.0},{"m":1237.5,"NO":0.95,"NO2":9.8,"NOx":10.75},{"m":1242.5,"NO":1.4,"NO2":11.25,"NOx":12.65},{"m":1247.5,"NO":1.6,"NO2":11.1,"NOx":12.7},{"m":1252.5,"NO":1.05,"NO2":10.5,"NOx":11.55},{"m":1257.5,"NO":0.4,"NO2":10.85,"NOx":11.25},
{"m":1262.5,"NO":0.8,"NO2":9.35,"NOx":10.15},{"m":1267.5,"NO":0.4,"NO2":10.55,"NOx":10.95},{"m":1272.5,"NO":0.7,"NO2":9.85,"NOx":10.55},{"m":1277.5,"NO":0.4,"NO2":10.75,"NOx":11.15},{"m":1282.5,"NO":0.85,"NO2":9.5,"NOx":10.35},{"m":1287.5,"NO":0.35,"NO2":9.35,"NOx":9.7},{"m":1292.5,"NO":0.35,"NO2":8.3,"NOx":8.65},{"m":1297.5,"NO":0.1,"NO2":8.85,"NOx":8.95},{"m":1302.5,"NO":0.55,"NO2":8.05,"NOx":8.6},{"m":1307.5,"NO":0.45,"NO2":9.7,"NOx":10.15},{"m":1312.5,"NO":1.2,"NO2":9.65,"NOx":10.85},{"m":1317.5,"NO":1.6,"NO2":11.05,"NOx":12.65},
{"m":1322.5,"NO":1.7,"NO2":10.35,"NOx":12.05},{"m":1327.5,"NO":1.05,"NO2":11.1,"NOx":12.15},{"m":1332.5,"NO":1.05,"NO2":9.7,"NOx":10.75},{"m":1337.5,"NO":0.6,"NO2":10.15,"NOx":10.75},{"m":1342.5,"NO":0.85,"NO2":8.55,"NOx":9.4},{"m":1347.5,"NO":0.2,"NO2":8.35,"NOx":8.55},{"m":1352.5,"NO":0.4,"NO2":6.85,"NOx":7.25},{"m":1357.5,"NO":0.15,"NO2":7.5,"NOx":7.65},{"m":1362.5,"NO":0.8,"NO2":7.15,"NOx":7.95},{"m":1367.5,"NO":0.55,"NO2":7.55,"NOx":8.1},{"m":1372.5,"NO":0.75,"NO2":6.15,"NOx":6.9},{"m":1377.5,"NO":0.35,"NO2":6.8,"NOx":7.15},
{"m":1382.5,"NO":0.5,"NO2":5.75,"NOx":6.25},{"m":1387.5,"NO":0.25,"NO2":5.95,"NOx":6.2},{"m":1392.5,"NO":0.55,"NO2":4.7,"NOx":5.25},{"m":1397.5,"NO":0.1,"NO2":5.85,"NOx":5.95},{"m":1402.5,"NO":0.4,"NO2":4.8,"NOx":5.2},{"m":1407.5,"NO":0.15,"NO2":4.75,"NOx":4.9},{"m":1412.5,"NO":0.35,"NO2":3.9,"NOx":4.25},{"m":1417.5,"NO":0.1,"NO2":4.25,"NOx":4.35},{"m":1422.5,"NO":0.4,"NO2":3.8,"NOx":4.2},{"m":1427.5,"NO":0.05,"NO2":4.65,"NOx":4.7},{"m":1432.5,"NO":0.3,"NO2":3.8,"NOx":4.1},{"m":1437,"NO":0.2,"NO2":4.0,"NOx":4.2}
]},
"layer": [
  {
    "mark": {"type": "line", "strokeWidth": 1},
    "encoding": {
      "x": {"field": "m", "type": "quantitative", "scale": {"domain": [0, 1439], "nice": false, "zero": false},
        "axis": {"orient": "bottom", "values": [0,121,241,361,481,601,721,841,961,1081,1201,1321,1439], "labelExpr": "timeFormat(datetime(2000,0,1,23,59+datum.value),'%H:%M')", "tickSize": 5, "labelPadding": 4, "labelFlush": false, "labelOverlap": false, "domain": false, "title": "Time", "titlePadding": 5}},
      "y": {"field": "NOx", "type": "quantitative", "scale": {"domain": [-2, 22], "nice": false, "zero": false},
        "axis": {"values": [-2,0,2,4,6,8,10,12,14,16,18,20,22], "tickSize": 5, "labelPadding": 2, "labelOverlap": false, "labelFlush": false, "domainColor": "#000", "domainWidth": 1.5, "title": "NOx Concentration (ppb)", "titleColor": "#0a5c0a", "titlePadding": 6}},
      "color": {"datum": "NOx", "type": "nominal", "scale": {"domain": ["NO", "NO2", "NOx"], "range": ["#000000", "#ff4848", "#00ff00"]},
        "legend": {"title": null, "orient": "none", "legendX": 667, "legendY": -82, "symbolType": "M2.7,0.6L3.59,-0.5L4.5,0.6L5.5,-0.5", "symbolSize": 324, "symbolStrokeWidth": 1, "labelFont": "Noto Sans", "labelFontSize": 11, "labelColor": "#000", "labelOffset": -19, "rowPadding": 2.5, "padding": 5,
          "encode": {"symbols": {"update": {"fill": {"value": "transparent"}, "strokeWidth": {"value": 1}, "opacity": {"value": 1}}}}}}
    }
  },
  {
    "mark": {"type": "line", "strokeWidth": 1},
    "encoding": {
      "x": {"field": "m", "type": "quantitative", "axis": null},
      "y": {"field": "NO2", "type": "quantitative",
        "axis": {"values": [-2,0,2,4,6,8,10,12,14,16,18,20,22], "tickSize": 5, "labelPadding": 2, "labelOverlap": false, "labelFlush": false, "domainColor": "#000", "domainWidth": 1.5, "title": "NOx Concentration (ppb)", "titleColor": "#0a5c0a", "titlePadding": 6}},
      "color": {"datum": "NO2", "type": "nominal"}
    }
  },
  {
    "mark": {"type": "line", "strokeWidth": 1},
    "encoding": {
      "x": {"field": "m", "type": "quantitative", "axis": null},
      "y": {"field": "NO", "type": "quantitative",
        "axis": {"values": [-2,0,2,4,6,8,10,12,14,16,18,20,22], "tickSize": 5, "labelPadding": 2, "labelOverlap": false, "labelFlush": false, "domainColor": "#000", "domainWidth": 1.5, "title": "NOx Concentration (ppb)", "titleColor": "#0a5c0a", "titlePadding": 6}},
      "color": {"datum": "NO", "type": "nominal"}
    }
  },
  {
    "data": {"values": []},
    "mark": {"type": "point"},
    "encoding": {
      "x": {"field": "m", "type": "quantitative",
        "axis": {"orient": "bottom", "values": [16,31,46,61,76,91,106,136,151,166,181,196,211,226,256,271,286,301,316,331,346,376,391,406,421,436,451,466,496,511,526,541,556,571,586,616,631,646,661,676,691,706,736,751,766,781,796,811,826,856,871,886,901,916,931,946,976,991,1006,1021,1036,1051,1066,1096,1111,1126,1141,1156,1171,1186,1216,1231,1246,1261,1276,1291,1306,1336,1351,1366,1381,1396,1411,1426], "tickSize": 3, "labels": false, "domain": false, "title": null}}
    }
  },
  {
    "data": {"values": []},
    "mark": {"type": "point"},
    "encoding": {
      "x": {"field": "m", "type": "quantitative",
        "axis": {"orient": "top", "ticks": false, "labels": false, "domain": true, "domainColor": "#000", "domainWidth": 1.5, "title": null}}
    }
  },
  {
    "data": {"values": []},
    "mark": {"type": "point"},
    "encoding": {
      "shape": {"field": "s", "type": "nominal", "scale": {"domain": ["NO", "NO2", "NOx"], "range": ["M2.5,-0.89H5.61V0.89H2.5Z", "M2.5,-0.89H5.61V0.89H2.5Z", "M2.5,-0.89H5.61V0.89H2.5Z"]},
        "legend": {"title": null, "orient": "none", "legendX": 667, "legendY": -82, "symbolSize": 324, "labelFont": "Noto Sans", "labelFontSize": 11, "labelColor": "transparent", "rowPadding": 2.5, "padding": 5, "strokeColor": "#404040",
          "encode": {"symbols": {"update": {"stroke": {"value": "#000"}, "fill": {"value": "transparent"}, "strokeWidth": {"value": 1}, "opacity": {"value": 1}}}}}}
    }
  }
],
"resolve": {"axis": {"x": "independent"}}
}
